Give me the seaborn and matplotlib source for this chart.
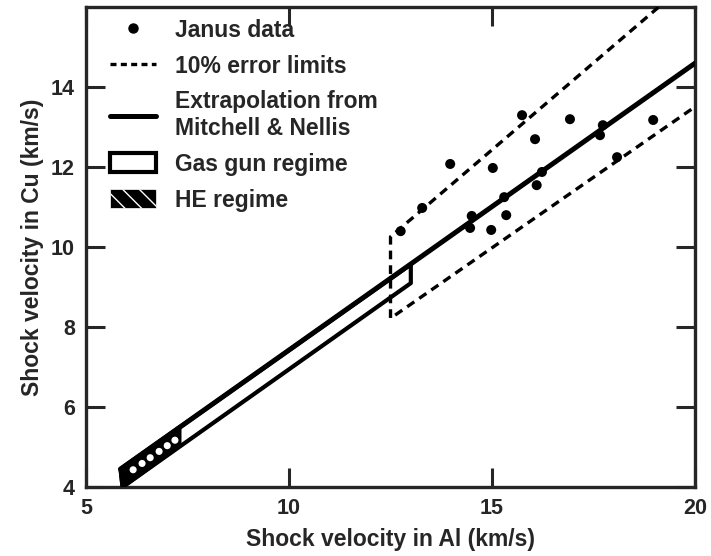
import numpy as np
import pandas as pd
import matplotlib
matplotlib.use("Agg")
import matplotlib.pyplot as plt
import matplotlib.patches as mpatches
from matplotlib.lines import Line2D
import seaborn as sns

# ---- data ----
janus_x = [12.75, 13.28, 13.97, 14.46, 14.50, 14.98, 15.02, 15.30, 15.35,
           15.74, 16.06, 16.10, 16.23, 16.92, 17.66, 17.73, 18.08, 18.97]
janus_y = [10.40, 10.98, 12.08, 10.48, 10.78, 10.43, 11.98, 11.25, 10.80,
           13.30, 12.70, 11.55, 11.88, 13.20, 12.80, 13.05, 12.25, 13.18]

extrap_x = [5.85, 20.0]
extrap_y = [4.45, 14.60]

# 10% error limits (upper, vertical connector, lower)
limit_x = [19.10, 12.50, 12.50, 20.0]
limit_y = [16.00, 10.26, 8.22, 13.51]

# gas gun regime band (corners)
gas_x = [5.85, 13.00, 13.00, 5.90]
gas_y = [4.45, 9.57, 9.10, 4.00]

# HE regime (part of band)
he_x = [5.85, 7.30, 7.30, 5.90]
he_y = [4.45, 5.49, 5.03, 4.00]
he_hole_x = [6.16, 6.38, 6.58, 6.80, 7.00, 7.19]

xticks = [5, 10, 15, 20]
yticks = [4, 6, 8, 10, 12, 14]

sns.set_style("ticks")
plt.rcParams['font.family'] = ['Liberation Sans', 'DejaVu Sans']
plt.rcParams['font.weight'] = 'bold'

fig = plt.figure(figsize=(7.11, 5.56), dpi=100)
ax = fig.add_axes([0.121, 0.124, 0.8565, 0.863])

# gas gun band outline
ax.add_patch(mpatches.Polygon(np.column_stack([gas_x, gas_y]), closed=True,
                              facecolor='white', edgecolor='black', lw=3.0,
                              joinstyle='round', zorder=2))
# HE regime filled
ax.add_patch(mpatches.Polygon(np.column_stack([he_x, he_y]), closed=True,
                              facecolor='black', edgecolor='black', lw=3.0,
                              joinstyle='round', zorder=3))
hole_y = [4.225 + 0.717 * (x - 5.87) for x in he_hole_x]
ax.scatter(he_hole_x, hole_y, s=26, color='white', edgecolor='none', zorder=4)

# extrapolation line
df_ex = pd.DataFrame({'x': extrap_x, 'y': extrap_y})
sns.lineplot(data=df_ex, x='x', y='y', ax=ax, color='black', lw=3.6,
             sort=False, estimator=None, zorder=5)

# 10% error limits
df_lim = pd.DataFrame({'x': limit_x, 'y': limit_y})
sns.lineplot(data=df_lim, x='x', y='y', ax=ax, color='black', lw=2.4,
             sort=False, estimator=None, zorder=5)
ax.lines[-1].set_dashes((2.6, 1.8))

# Janus data
df_j = pd.DataFrame({'x': janus_x, 'y': janus_y})
sns.scatterplot(data=df_j, x='x', y='y', ax=ax, color='black', s=52,
                edgecolor='none', zorder=6)

ax.set_xlim(5, 20)
ax.set_ylim(4, 16)
ax.set_xticks(xticks)
ax.set_yticks(yticks)
ax.tick_params(direction='in', length=14, width=2.2, top=True, right=True,
               labelsize=15.5, pad=8)
for lab in ax.get_xticklabels() + ax.get_yticklabels():
    lab.set_fontweight('bold')
for sp in ax.spines.values():
    sp.set_linewidth(2.4)
    sp.set_visible(True)

ax.set_xlabel('Shock velocity in Al (km/s)', fontsize=16.5, fontweight='bold', labelpad=6)
ax.set_ylabel('Shock velocity in Cu (km/s)', fontsize=16.5, fontweight='bold', labelpad=5)

handles = [
    Line2D([], [], marker='o', color='black', linestyle='none', markersize=6.5),
    Line2D([], [], color='black', lw=2.4, dashes=(1.8, 1.3)),
    Line2D([], [], color='black', lw=3.6),
    mpatches.Patch(facecolor='white', edgecolor='black', lw=3.0),
    mpatches.Patch(facecolor='black', edgecolor='white', lw=0.5, hatch='\\\\'),
]
labels = ['Janus data', '10% error limits', 'Extrapolation from\nMitchell & Nellis',
          'Gas gun regime', 'HE regime']
ax.legend(handles, labels, loc='upper left', frameon=False,
          prop={'weight': 'bold', 'size': 16.5}, handlelength=2.0,
          handleheight=0.9, labelspacing=0.56, handletextpad=0.8,
          borderaxespad=0.0, bbox_to_anchor=(0.025, 0.995))

fig.savefig('out.png', dpi=100)
